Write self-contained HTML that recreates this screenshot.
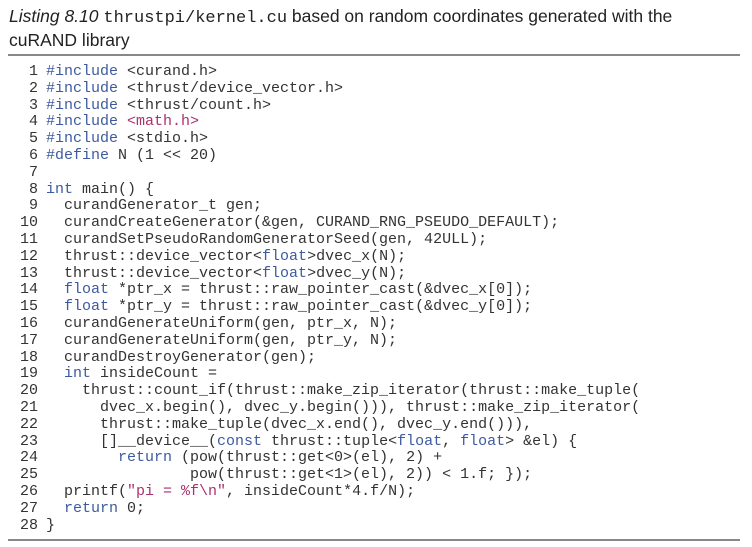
<!DOCTYPE html>
<html><head><meta charset="utf-8"><style>
body{margin:0;width:752px;height:547px;background:#fff;position:relative;overflow:hidden}
.t{position:absolute;left:9px;font-family:"Liberation Sans",sans-serif;font-size:17.5px;color:#222;white-space:nowrap}
.t i{font-style:italic}
.t code{font-family:"Liberation Mono",monospace;font-size:17px}
.rule{position:absolute;left:8px;width:732px;height:2px;background:#888}
pre{position:absolute;left:0;top:64px;margin:0;font-family:"Liberation Mono",monospace;font-size:15px;line-height:16.8px;color:#333}
.n{display:inline-block;width:38px;text-align:right;margin-right:8px;color:#333}
.k{color:#3d5aa0}.s{color:#a8326e}
</style></head><body>
<div class="t" style="top:6px"><i>Listing 8.10</i> <code>thrustpi/kernel.cu</code> based on random coordinates generated with the</div>
<div class="t" style="top:30px">cuRAND library</div>
<div class="rule" style="top:54px"></div>
<pre><span class="n">1</span><span class="k">#include</span> &lt;curand.h&gt;
<span class="n">2</span><span class="k">#include</span> &lt;thrust/device_vector.h&gt;
<span class="n">3</span><span class="k">#include</span> &lt;thrust/count.h&gt;
<span class="n">4</span><span class="k">#include</span> <span class="s">&lt;math.h&gt;</span>
<span class="n">5</span><span class="k">#include</span> &lt;stdio.h&gt;
<span class="n">6</span><span class="k">#define</span> N (1 &lt;&lt; 20)
<span class="n">7</span>
<span class="n">8</span><span class="k">int</span> main() {
<span class="n">9</span>  curandGenerator_t gen;
<span class="n">10</span>  curandCreateGenerator(&amp;gen, CURAND_RNG_PSEUDO_DEFAULT);
<span class="n">11</span>  curandSetPseudoRandomGeneratorSeed(gen, 42ULL);
<span class="n">12</span>  thrust::device_vector&lt;<span class="k">float</span>&gt;dvec_x(N);
<span class="n">13</span>  thrust::device_vector&lt;<span class="k">float</span>&gt;dvec_y(N);
<span class="n">14</span>  <span class="k">float</span> *ptr_x = thrust::raw_pointer_cast(&amp;dvec_x[0]);
<span class="n">15</span>  <span class="k">float</span> *ptr_y = thrust::raw_pointer_cast(&amp;dvec_y[0]);
<span class="n">16</span>  curandGenerateUniform(gen, ptr_x, N);
<span class="n">17</span>  curandGenerateUniform(gen, ptr_y, N);
<span class="n">18</span>  curandDestroyGenerator(gen);
<span class="n">19</span>  <span class="k">int</span> insideCount =
<span class="n">20</span>    thrust::count_if(thrust::make_zip_iterator(thrust::make_tuple(
<span class="n">21</span>      dvec_x.begin(), dvec_y.begin())), thrust::make_zip_iterator(
<span class="n">22</span>      thrust::make_tuple(dvec_x.end(), dvec_y.end())),
<span class="n">23</span>      []__device__(<span class="k">const</span> thrust::tuple&lt;<span class="k">float</span>, <span class="k">float</span>&gt; &amp;el) {
<span class="n">24</span>        <span class="k">return</span> (pow(thrust::get&lt;0&gt;(el), 2) +
<span class="n">25</span>                pow(thrust::get&lt;1&gt;(el), 2)) &lt; 1.f; });
<span class="n">26</span>  printf(<span class="s">"pi = %f\n"</span>, insideCount*4.f/N);
<span class="n">27</span>  <span class="k">return</span> 0;
<span class="n">28</span>}
</pre>
<div class="rule" style="top:539px"></div>
</body></html>
